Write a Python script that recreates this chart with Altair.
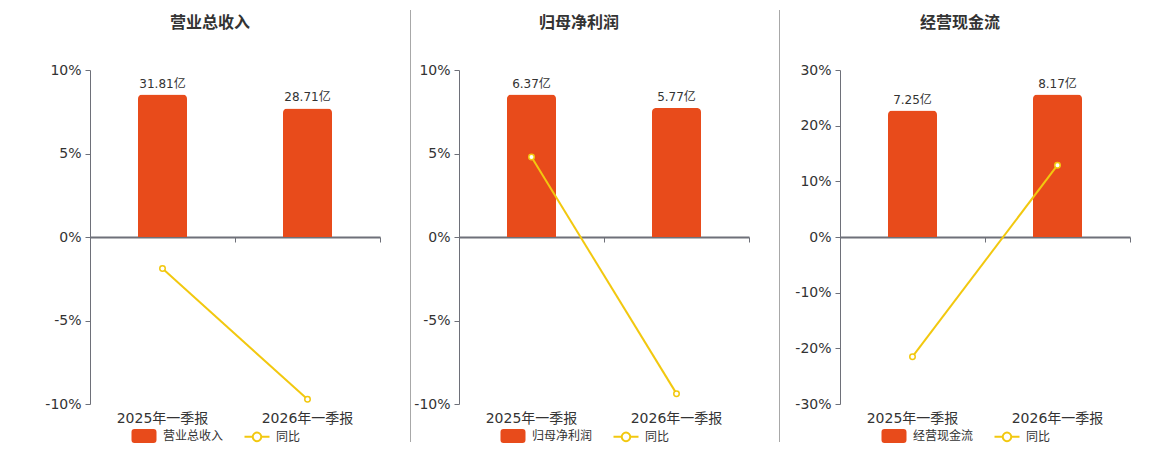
import altair as alt
import pandas as pd

periods = ["2025年一季报", "2026年一季报"]
titles = ["营业总收入", "归母净利润", "经营现金流"]
amounts = [[31.81, 28.71], [6.37, 5.77], [7.25, 8.17]]
amount_labels = [["31.81亿", "28.71亿"], ["6.37亿", "5.77亿"], ["7.25亿", "8.17亿"]]
yoy = [[-1.89, -9.72], [4.79, -9.38], [-21.5, 12.9]]
yoy_ticks = [[-10, -5, 0, 5, 10], [-10, -5, 0, 5, 10], [-30, -20, -10, 0, 10, 20, 30]]
yoy_name = "同比"

RED = "#E84B1B"
YEL = "#F2C80F"
FONT = "DejaVu Sans, Noto Sans CJK SC"
W, H = 290, 334

# legend symbols (unit = 7px, symbol cell 14px)
RECT_PATH = ("M-1.357,-0.857H1.357A0.286,0.286 0 0 1 1.643,-0.571V0.571"
             "A0.286,0.286 0 0 1 1.357,0.857H-1.357A0.286,0.286 0 0 1 -1.643,0.571"
             "V-0.571A0.286,0.286 0 0 1 -1.357,-0.857Z")
LINE_PATH = ("M-1.786,0H-0.61M0.61,0H1.786M0.61,0A0.61,0.61 0 1 1 -0.61,0"
             "A0.61,0.61 0 1 1 0.61,0")


def panel(i):
    df = pd.DataFrame({
        "period": periods,
        "amount": amounts[i],
        "label": amount_labels[i],
        "yoy": yoy[i],
    })
    ticks = yoy_ticks[i]
    lo, hi = ticks[0], ticks[-1]
    m = max(amounts[i]) / 0.853
    xscale = alt.Scale(domain=periods, paddingInner=0, paddingOuter=0)

    label_axis = alt.Axis(orient="bottom", domain=False, ticks=False, grid=False,
                          labelFontSize=14, labelColor="#333", labelFont=FONT,
                          labelPadding=7, title=None, labelAngle=0)
    zero_axis = alt.Axis(orient="bottom", offset=-H / 2, labels=False, grid=False,
                         domain=True, domainColor="#6E7079", domainWidth=2,
                         ticks=True, tickBand="extent", tickSize=5,
                         tickColor="#6E7079", tickWidth=1, title=None)
    yaxis = alt.Axis(orient="left", values=ticks, labelExpr="datum.value + '%'",
                     labelFontSize=14, labelColor="#333", labelFont=FONT,
                     labelPadding=4, domainColor="#6E7079", tickColor="#6E7079",
                     tickSize=5, gridColor="#E0E6F1", title=None)

    base = alt.Chart(df)
    xb = alt.X("period:N", sort=periods, scale=xscale, axis=label_axis)
    xl = alt.X("period:N", sort=periods, scale=xscale, axis=zero_axis)
    yb = alt.Y("amount:Q", scale=alt.Scale(domain=[-m, m], nice=False, zero=False), axis=None)
    yl = alt.Y("yoy:Q", scale=alt.Scale(domain=[lo, hi], nice=False), axis=yaxis)

    bars = base.mark_bar(color=RED, size=49, cornerRadiusTopLeft=4,
                         cornerRadiusTopRight=4).encode(x=xb, y=yb)
    text = base.mark_text(baseline="bottom", dy=-4, fontSize=12, color="#333",
                          font=FONT).encode(x=xb, y=yb, text="label:N")
    bar_layer = alt.layer(bars, text)

    line = base.mark_line(color=YEL, strokeWidth=2).encode(x=xl, y=yl)
    pts = base.mark_point(filled=True, fill="white", stroke=YEL, strokeWidth=1.5,
                          size=30, opacity=1).encode(x=xl, y=yl)

    series = [titles[i], yoy_name]
    leg = alt.Legend(orient="none", legendX=46, legendY=358, direction="horizontal",
                     title=None, symbolSize=196, labelFontSize=12, labelColor="#333",
                     labelFont=FONT, symbolStrokeWidth=2, columnPadding=16,
                     labelOffset=11, padding=0, symbolOpacity=1)
    ldf = pd.DataFrame({"series": series})
    legend_layer = alt.Chart(ldf).transform_filter("false").mark_point(
        filled=True, opacity=1, strokeWidth=2).encode(
        fill=alt.Fill("series:N", scale=alt.Scale(domain=series, range=[RED, "white"]), legend=leg),
        stroke=alt.Stroke("series:N", scale=alt.Scale(domain=series, range=[RED, YEL]), legend=leg),
        shape=alt.Shape("series:N", scale=alt.Scale(domain=series, range=[RECT_PATH, LINE_PATH]), legend=leg),
    )
    line_layer = alt.layer(line, pts)

    return alt.layer(bar_layer, line_layer, legend_layer).resolve_scale(
        y="independent").resolve_axis(x="independent").properties(
        width=W, height=H,
        title=alt.TitleParams(titles[i], fontSize=16, fontWeight="bold", color="#333",
                              font=FONT, anchor="middle", dx=-25, offset=32))


def divider():
    return alt.Chart(pd.DataFrame({"d": [0]})).mark_rule(color="#A8A8A8", strokeWidth=1).encode(
        x=alt.value(0.5), y=alt.value(-60), y2=alt.value(372)).properties(width=1, height=H)


def ind(c):
    return c.resolve_scale(fill="independent", stroke="independent", shape="independent").resolve_legend(
        fill="independent", stroke="independent", shape="independent")


chart = ind(alt.hconcat(
    panel(0),
    ind(alt.hconcat(divider(), panel(1), spacing=2)),
    ind(alt.hconcat(divider(), panel(2), spacing=14)),
    spacing=29,
)).properties(padding={"left": 36, "top": 1, "right": 0, "bottom": 0}).configure_view(stroke=None)

chart.save("out.html", embed_options={"renderer": "svg", "actions": False})
